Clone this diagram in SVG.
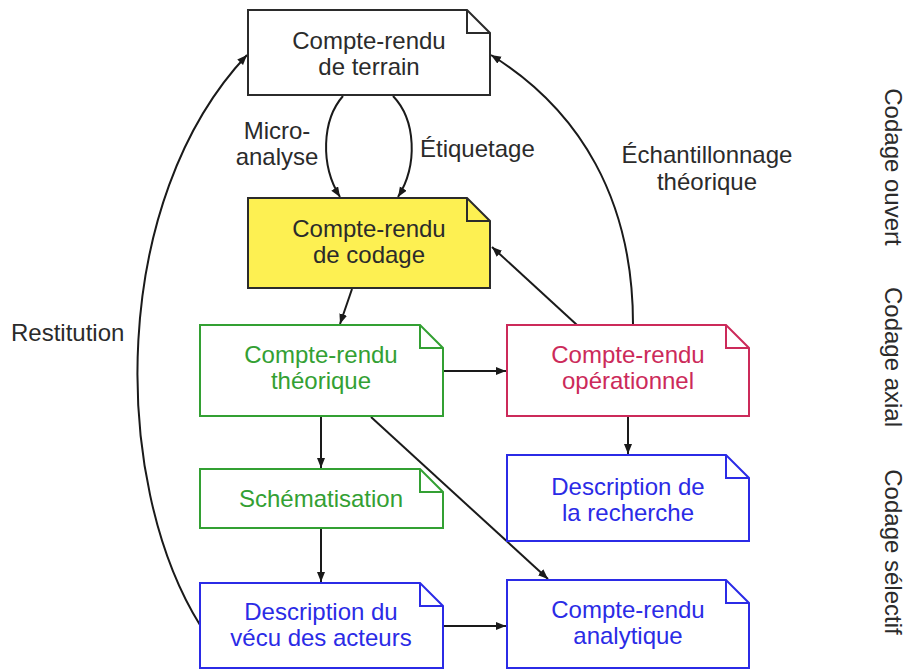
<svg xmlns="http://www.w3.org/2000/svg" width="913" height="671" viewBox="0 0 913 671">
<defs>
<style>
text{font-family:"Liberation Sans",Arial,sans-serif;font-size:24px;}
.c{text-anchor:middle;}
.k{fill:#2b2b2b;}
.g{fill:#33a033;}
.r{fill:#cc2a5a;}
.b{fill:#2b2be6;}
.box{stroke-width:2;fill:#fff;}
.bk{stroke:#2b2b2b;}
.gs{stroke:#33a033;}
.rs{stroke:#cc2a5a;}
.bs{stroke:#2b2be6;}
.fold{fill:none;stroke-width:2;}
.edge{fill:none;stroke:#1a1a1a;stroke-width:2;marker-end:url(#ah);}
</style>
<marker id="ah" markerUnits="userSpaceOnUse" markerWidth="11" markerHeight="9" refX="10" refY="4" orient="auto">
<path d="M0,0 L10,4 L0,8 Z" fill="#1a1a1a"/>
</marker>
</defs>
<rect width="913" height="671" fill="#fff"/>
<g id="connectors">
<path class="edge" d="M343,96 C322,120 320,165 340,197"/>
<path class="edge" d="M393,96 C416,120 418,165 398,197"/>
<path class="edge" d="M352,289 L340,324"/>
<path class="edge" d="M577,325 L492,247"/>
<path class="edge" d="M444,371 L506,371"/>
<path class="edge" d="M321,417 L321,468"/>
<path class="edge" d="M371,417 L548,579"/>
<path class="edge" d="M628,417 L628,454"/>
<path class="edge" d="M321,529 L321,582"/>
<path class="edge" d="M444,626 L506,626"/>
<path class="edge" d="M200,625 C110,480 110,200 247,55"/>
<path class="edge" d="M633,324 C633,200 580,110 491,55"/>
<text class="c k" x="277" y="139">Micro-</text>
<text class="c k" x="277" y="165">analyse</text>
<text class="k" x="420" y="157">Étiquetage</text>
<text class="c k" x="707" y="163">Échantillonnage</text>
<text class="c k" x="707" y="190">théorique</text>
<text class="k" x="11" y="341">Restitution</text>
</g>
<g id="terrain">
<path class="box bk" d="M248,10 H467 L490,33 V95 H248 Z"/>
<path class="fold bk" d="M467,10 V33 H490"/>
<text class="c k" x="369" y="49">Compte-rendu</text>
<text class="c k" x="369" y="75">de terrain</text>
</g>
<g id="codage">
<path class="box bk" style="fill:#fdf052" d="M248,198 H467 L490,221 V288 H248 Z"/>
<path class="fold bk" d="M467,198 V221 H490"/>
<text class="c k" x="369" y="237">Compte-rendu</text>
<text class="c k" x="369" y="263">de codage</text>
</g>
<g id="theorique">
<path class="box gs" d="M200,325 H420 L443,348 V416 H200 Z"/>
<path class="fold gs" d="M420,325 V348 H443"/>
<text class="c g" x="321" y="363">Compte-rendu</text>
<text class="c g" x="321" y="389">théorique</text>
</g>
<g id="operationnel">
<path class="box rs" d="M507,325 H726 L749,348 V416 H507 Z"/>
<path class="fold rs" d="M726,325 V348 H749"/>
<text class="c r" x="628" y="363">Compte-rendu</text>
<text class="c r" x="628" y="389">opérationnel</text>
</g>
<g id="schematisation">
<path class="box gs" d="M200,469 H420 L443,492 V528 H200 Z"/>
<path class="fold gs" d="M420,469 V492 H443"/>
<text class="c g" x="321" y="507">Schématisation</text>
</g>
<g id="recherche">
<path class="box bs" d="M507,455 H726 L749,478 V541 H507 Z"/>
<path class="fold bs" d="M726,455 V478 H749"/>
<text class="c b" x="628" y="495">Description de</text>
<text class="c b" x="628" y="521">la recherche</text>
</g>
<g id="vecu">
<path class="box bs" d="M200,583 H420 L443,606 V668 H200 Z"/>
<path class="fold bs" d="M420,583 V606 H443"/>
<text class="c b" x="321" y="620">Description du</text>
<text class="c b" x="321" y="646">vécu des acteurs</text>
</g>
<g id="analytique">
<path class="box bs" d="M507,580 H726 L749,603 V668 H507 Z"/>
<path class="fold bs" d="M726,580 V603 H749"/>
<text class="c b" x="628" y="618">Compte-rendu</text>
<text class="c b" x="628" y="644">analytique</text>
</g>
<g id="phases">
<text class="c k" transform="translate(885,167) rotate(90)">Codage ouvert</text>
<text class="c k" transform="translate(885,357) rotate(90)">Codage axial</text>
<text class="c k" transform="translate(885,552) rotate(90)">Codage sélectif</text>
</g>
</svg>
